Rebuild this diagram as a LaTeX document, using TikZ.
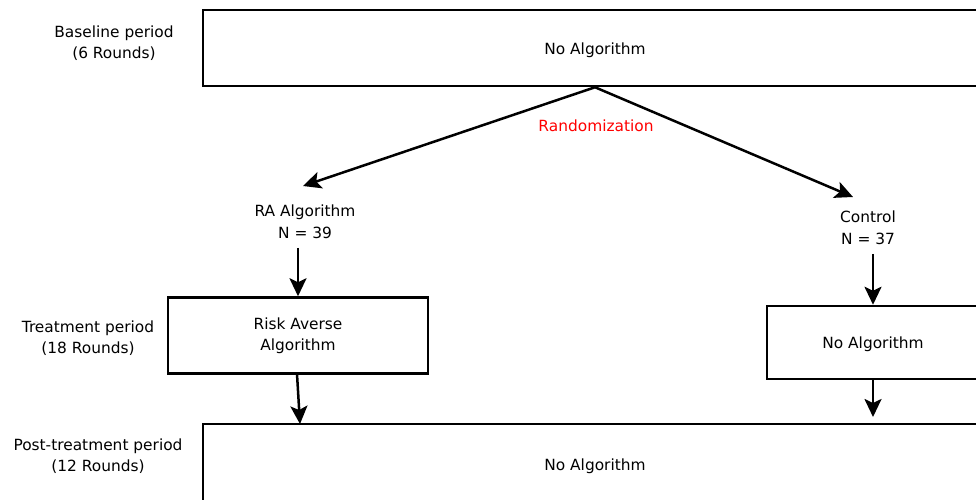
\documentclass[tikz,border=0pt]{standalone}
\usepackage{fontspec}
\setmainfont{DejaVu Sans}
\usetikzlibrary{arrows.meta}
\begin{document}
\begin{tikzpicture}[x=1pt,y=-1pt,
  every node/.style={font=\fontsize{15.4}{21.5}\selectfont, align=center},
  box/.style={draw, line width=2.5pt, inner sep=0pt},
  onebox/.style={box, text height=15.7pt, text depth=3.6pt},
  lbl/.style={inner sep=0pt},
  arr/.style={draw, line width=2.5pt, -{Stealth[length=18pt,width=17pt,inset=4pt]}}]
\useasboundingbox (0,0) rectangle (976,499);
\clip (0,0) rectangle (976,499);
% boxes
\node[onebox, minimum width=784pt, minimum height=76pt] (top) at (595,48) {No Algorithm};
\node[box, minimum width=260pt, minimum height=76pt] (rab) at (298,335.5) {Risk Averse\\Algorithm};
\node[onebox, minimum width=212pt, minimum height=73pt] (cb) at (873,342.5) {No Algorithm};
\node[onebox, minimum width=784pt, minimum height=80pt] (bot) at (595,464) {No Algorithm};
% text labels
\node[lbl, text=red] (rand) at (596,126) {Randomization};
\node[lbl] (ra) at (305,222) {RA Algorithm\\N = 39};
\node[lbl] (ctrl) at (868,228) {Control\\N = 37};
\node[lbl] (base) at (114,43) {Baseline period\\(6 Rounds)};
\node[lbl] (treat) at (88,338) {Treatment period\\(18 Rounds)};
\node[lbl] (post) at (98,456) {Post-treatment period\\(12 Rounds)};
% arrow tips
\coordinate (raTip) at (303,186);
\coordinate (cTip) at (853,197);
\coordinate (rabOut) at (297,374);
\coordinate (botL) at (300,424);
\coordinate (botR) at (873,417);
% connectors
\draw[arr] (top.south) -- (raTip);
\draw[arr] (top.south) -- (cTip);
\draw[arr] (ra.south -| rab.north) ++(0,9) -- (rab.north);
\draw[arr] (ctrl.south -| cb.north) ++(0,9) -- (cb.north);
\draw[arr] (rabOut) -- (botL);
\draw[arr] (cb.south) -- (botR);
\end{tikzpicture}
\end{document}
